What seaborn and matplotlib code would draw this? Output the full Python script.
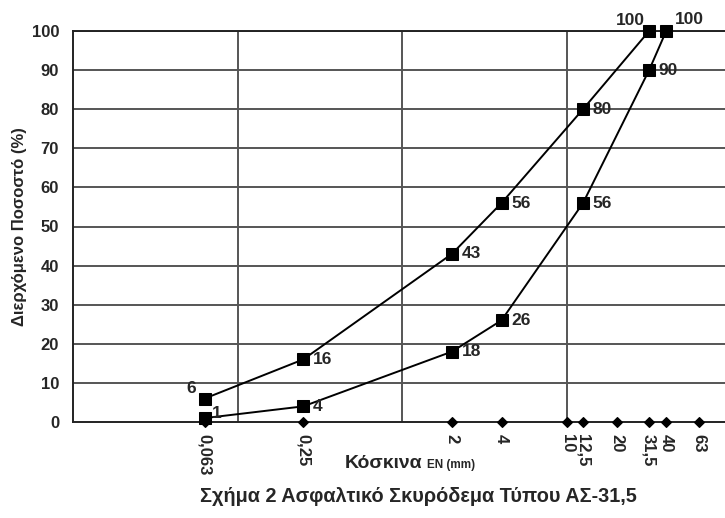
import numpy as np
import pandas as pd
import seaborn as sns
import matplotlib.pyplot as plt

# sieve sizes (mm) and passing percentages
sieves = [0.063, 0.25, 2, 4, 10, 12.5, 20, 31.5, 40, 63]
sieve_labels = ["0,063", "0,25", "2", "4", "10", "12,5", "20", "31,5", "40", "63"]

upper_x = [0.063, 0.25, 2, 4, 12.5, 31.5]
upper_y = [6, 16, 43, 56, 80, 100]
lower_x = [0.063, 0.25, 2, 4, 12.5, 31.5, 40]
lower_y = [1, 4, 18, 26, 56, 90, 100]

sns.set_style("white")
plt.rcParams['font.family'] = ['Liberation Sans', 'DejaVu Sans']
plt.rcParams['font.weight'] = 'bold'

fig = plt.figure(figsize=(7.25, 5.18), dpi=100)
ax = fig.add_axes([73 / 725, 1 - 422 / 518, 1 - 73 / 725, (422 - 31) / 518])

df = pd.concat([
    pd.DataFrame({"x": upper_x, "y": upper_y, "s": "upper"}),
    pd.DataFrame({"x": lower_x, "y": lower_y, "s": "lower"}),
])
sns.lineplot(data=df, x="x", y="y", units="s", estimator=None, sort=False,
             color="black", lw=1.4, marker="s", markersize=8,
             markeredgecolor="black", ax=ax, clip_on=False, zorder=5)

ax.set_xscale("log")
ax.set_xlim(0.01, 91)
ax.set_ylim(0, 100)
ax.set_yticks(range(0, 101, 10))
ax.set_yticklabels([str(v) for v in range(0, 101, 10)], fontsize=12, fontweight="bold")
ax.tick_params(axis="y", length=0, pad=10)

# grid
for v in range(10, 101, 10):
    ax.axhline(v, color="#555555", lw=1.4, zorder=1)
for v in [0.1, 1, 10]:
    ax.axvline(v, color="#555555", lw=1.4, zorder=1)

ax.set_xticks([])
ax.minorticks_off()
ax.set_xticks([], minor=True)
for s in ["top", "left", "bottom"]:
    ax.spines[s].set_color("#222222")
    ax.spines[s].set_linewidth(1.4)
ax.spines["right"].set_visible(False)

# sieve markers on the axis
ax.scatter(sieves, [0] * len(sieves), marker="D", s=24, color="black",
           zorder=6, clip_on=False)
for xv, lab in zip(sieves, sieve_labels):
    ax.annotate(lab, (xv, 0), xytext=(0, -9), textcoords="offset points",
                rotation=270, ha="center", va="top", fontsize=12,
                fontweight="bold", annotation_clip=False)

# value labels
def label(xs, ys, special):
    for xv, yv in zip(xs, ys):
        off, ha, va = special.get((xv, yv), ((7, 0), "left", "center"))
        ax.annotate(str(yv), (xv, yv), xytext=off, textcoords="offset points",
                    ha=ha, va=va, fontsize=12.5, fontweight="bold",
                    annotation_clip=False, zorder=7)

label(upper_x, upper_y, {(0.063, 6): ((-6, 2), "right", "bottom"),
                         (31.5, 100): ((-3, 2), "right", "bottom")})
label(lower_x, lower_y, {(0.063, 1): ((5, -2), "left", "bottom"),
                         (40, 100): ((6, 3), "left", "bottom")})

ax.set_xlabel("")
ax.set_ylabel("Διερχόμενο Ποσοστό (%)", fontsize=12, fontweight="bold", labelpad=3)

fig.text(345 / 725, 1 - 464 / 518, "Κόσκινα", fontsize=14, fontweight="bold",
         ha="left", va="center")
fig.text(427 / 725, 1 - 465 / 518, "EN (mm)", fontsize=8.5, fontweight="bold",
         ha="left", va="center")
fig.text(418 / 725, 1 - 497 / 518, "Σχήμα 2 Ασφαλτικό Σκυρόδεμα Τύπου ΑΣ-31,5",
         fontsize=14.3, fontweight="bold", ha="center", va="center")

fig.savefig("out.png", dpi=100)
